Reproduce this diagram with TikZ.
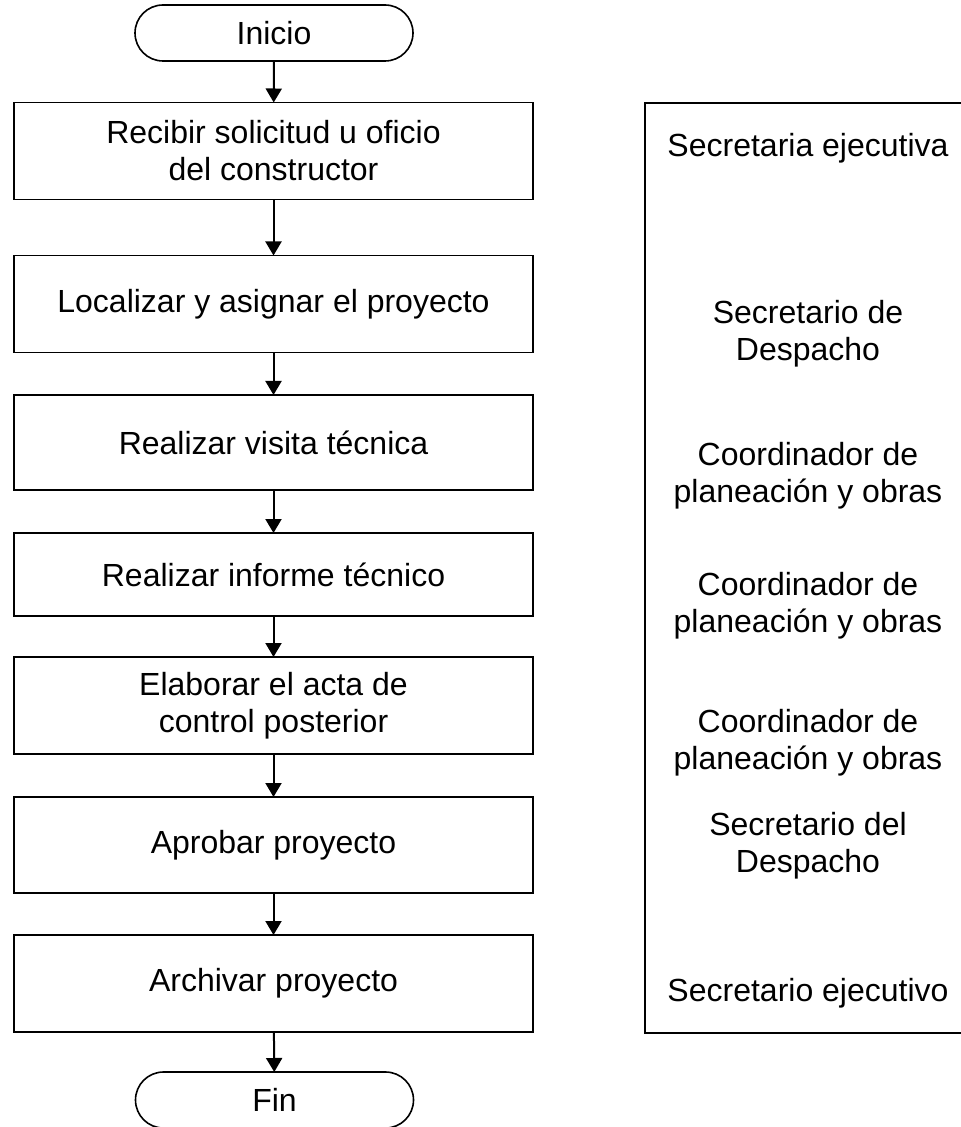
\documentclass[tikz,border=0pt]{standalone}
\usepackage{fontspec}
\setmainfont{Liberation Sans}
\usetikzlibrary{arrows.meta,shapes.misc}

\tikzset{
  paso/.style={draw,line width=0.8pt,minimum width=259.5pt,minimum height=48.5pt,
    inner sep=0pt,outer sep=0pt,align=center},
  terminal/.style={draw,line width=0.8pt,rounded rectangle,minimum width=139pt,
    minimum height=28pt,inner sep=0pt,outer sep=0pt},
  rol/.style={align=center},
  flecha/.style={line width=1pt,-{Triangle[length=7pt,width=8pt]}}
}

\begin{document}
\begin{tikzpicture}[x=0.5pt,y=-0.5pt,font=\fontsize{16}{18.5}\selectfont]
\useasboundingbox (0,0) rectangle (960,1127);
% flujo principal, centrado en x=273.5
\node[terminal] (ini) at (274,33) {Inicio};
\node[paso] (p1) at (273.5,151) {Recibir solicitud u oficio\\ del constructor};
\node[paso] (p2) at (273.5,304) {Localizar y asignar el proyecto};
\node[paso,minimum height=47.5pt] (p3) at (273.5,442.5) {Realizar visita técnica};
\node[paso,minimum height=41.5pt] (p4) at (273.5,574.5) {Realizar informe técnico};
\node[paso] (p5) at (273.5,705.5) {Elaborar el acta de\\ control posterior};
\node[paso,minimum height=48pt] (p6) at (273.5,845) {Aprobar proyecto};
\node[paso] (p7) at (273.5,983.5) {Archivar proyecto};
\node[terminal] (fin) at (274.5,1100) {Fin};
\foreach \a/\b in {ini/p1,p1/p2,p2/p3,p3/p4,p4/p5,p5/p6,p6/p7,p7/fin}
  \draw[flecha] (\a) -- (\b);
% responsables
\draw[line width=0.8pt] (645,103) rectangle (970,1033);
\node[rol] (r1) at (808,148) {Secretaria ejecutiva};
\node[rol] (r2) at (808,334) {Secretario de\\ Despacho};
\node[rol] (r3) at (808,476) {Coordinador de\\ planeación y obras};
\node[rol] (r4) at (808,606) {Coordinador de\\ planeación y obras};
\node[rol] (r5) at (808,743) {Coordinador de\\ planeación y obras};
\node[rol] (r6) at (808,846) {Secretario del\\ Despacho};
\node[rol] (r7) at (808,993) {Secretario ejecutivo};
\end{tikzpicture}
\end{document}
